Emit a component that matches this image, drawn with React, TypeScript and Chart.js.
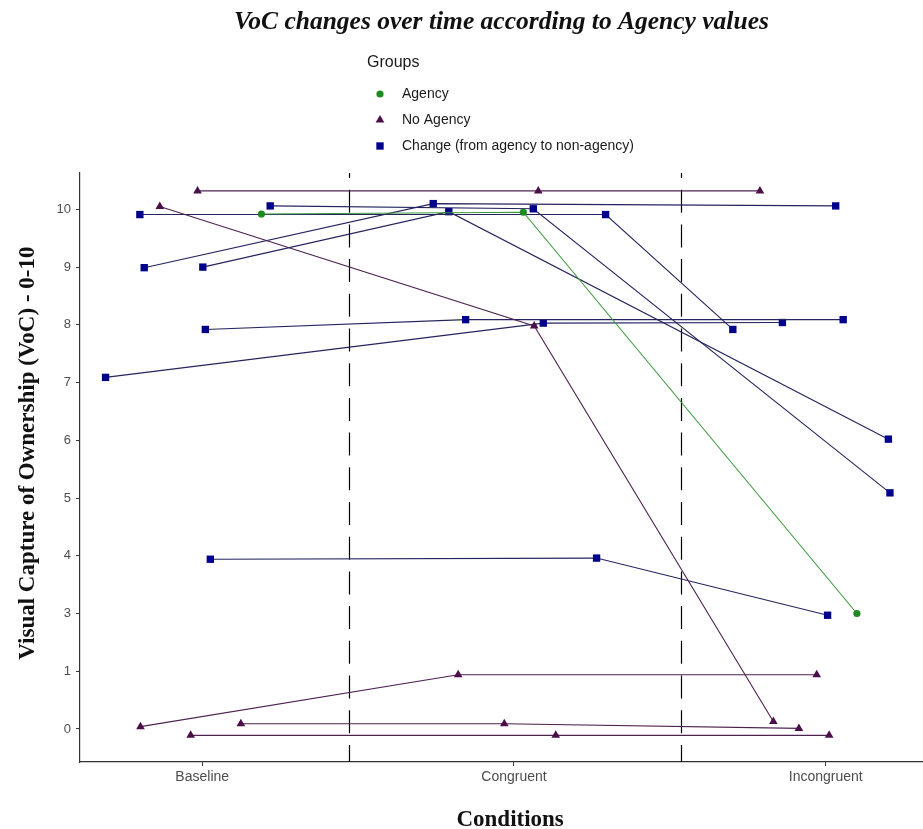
import React, { useEffect, useRef } from 'react';
import { Chart, registerables } from 'chart.js';

Chart.register(...registerables);

// ---- data ----
const conditions = ['Baseline', 'Congruent', 'Incongruent'];
const yTickLabels = [0, 1, 3, 4, 5, 6, 7, 8, 9, 10];
const dividers = [1.472, 2.535];
const groupNames = ['Agency', 'No Agency', 'Change (from agency to non-agency)'];

// jittered condition positions (1 = Baseline, 2 = Congruent, 3 = Incongruent)
const agencyX = [[1.19, 2.03, 3.1]];
const agencyY = [[9.92, 9.95, 3.0]];

const noAgencyX = [
  [0.985, 2.078, 2.789],
  [0.864, 2.065, 2.832],
  [0.802, 1.821, 2.971],
  [1.124, 1.969, 2.914],
  [0.963, 2.134, 3.011],
];
const noAgencyY = [
  [10.32, 10.32, 10.32],
  [10.05, 7.98, 0.13],
  [0.04, 0.94, 0.94],
  [0.09, 0.09, 0.01],
  [-0.11, -0.11, -0.11],
];

const changeX = [
  [0.8, 2.294, 2.702],
  [1.218, 2.062, 3.206],
  [1.002, 1.791, 3.201],
  [0.814, 1.741, 3.032],
  [1.01, 1.845, 3.056],
  [0.69, 2.094, 2.861],
  [1.026, 2.265, 3.006],
];
const changeY = [
  [9.91, 9.91, 7.92],
  [10.06, 10.01, 5.09],
  [9.0, 9.96, 6.02],
  [8.99, 10.1, 10.06],
  [7.92, 8.09, 8.09],
  [7.09, 8.03, 8.04],
  [3.94, 3.96, 2.94],
];

// ---- styles ----
const groupStyles = [
  { pointStyle: 'circle', radius: 3.6, point: '#1f8a1f', line: '#3f9a3f' },
  { pointStyle: 'triangle', radius: 5, point: '#4a0f48', line: '#4d2350' },
  { pointStyle: 'rect', radius: 5.2, point: '#00008b', line: '#24245e' },
];

// axis is drawn with equally spaced labels (0,1,3,4,...,10): map a value to its axis slot
function toAxis(v: number): number {
  const t = yTickLabels;
  if (v <= t[0]) return v - t[0];
  for (let i = 0; i < t.length - 1; i++) {
    if (v <= t[i + 1]) return i + (v - t[i]) / (t[i + 1] - t[i]);
  }
  return t.length - 1 + (v - t[t.length - 1]);
}

function buildDatasets() {
  const groups = [
    { xs: agencyX, ys: agencyY },
    { xs: noAgencyX, ys: noAgencyY },
    { xs: changeX, ys: changeY },
  ];
  const out: any[] = [];
  groups.forEach((g, gi) => {
    const st = groupStyles[gi];
    g.xs.forEach((row, ri) => {
      out.push({
        label: groupNames[gi] + ' ' + (ri + 1),
        data: row.map((x, i) => ({ x, y: toAxis(g.ys[ri][i]) })),
        borderColor: st.line,
        borderWidth: 1.1,
        pointStyle: st.pointStyle,
        pointRadius: st.radius,
        pointBackgroundColor: st.point,
        pointBorderColor: st.point,
        pointBorderWidth: 0,
        tension: 0,
        fill: false,
      });
    });
  });
  return out;
}

function drawMarker(ctx: CanvasRenderingContext2D, style: string, x: number, y: number, r: number, color: string) {
  ctx.fillStyle = color;
  ctx.beginPath();
  if (style === 'circle') {
    ctx.arc(x, y, r, 0, Math.PI * 2);
  } else if (style === 'triangle') {
    let rad = 0;
    ctx.moveTo(x + Math.sin(rad) * r, y - Math.cos(rad) * r);
    rad += (2 * Math.PI) / 3;
    ctx.lineTo(x + Math.sin(rad) * r, y - Math.cos(rad) * r);
    rad += (2 * Math.PI) / 3;
    ctx.lineTo(x + Math.sin(rad) * r, y - Math.cos(rad) * r);
    ctx.closePath();
  } else {
    const s = Math.SQRT1_2 * r;
    ctx.rect(x - s, y - s, 2 * s, 2 * s);
  }
  ctx.fill();
}

const dividerPlugin = {
  id: 'dividers',
  beforeDatasetsDraw(chart: any) {
    const { ctx, chartArea, scales } = chart;
    ctx.save();
    ctx.strokeStyle = '#000';
    ctx.lineWidth = 1.2;
    ctx.setLineDash([23, 11.7]);
    ctx.lineDashOffset = 18;
    dividers.forEach((d) => {
      const x = Math.round(scales.x.getPixelForValue(d)) + 0.5;
      ctx.beginPath();
      ctx.moveTo(x, chartArea.top);
      ctx.lineTo(x, chartArea.bottom);
      ctx.stroke();
    });
    ctx.restore();
  },
};

const legendPlugin = {
  id: 'groupsLegend',
  afterDraw(chart: any) {
    const ctx: CanvasRenderingContext2D = chart.ctx;
    ctx.save();
    ctx.textBaseline = 'middle';
    ctx.textAlign = 'left';
    ctx.fillStyle = '#1a1a1a';
    ctx.font = '16px "Liberation Sans", Arial, sans-serif';
    ctx.fillText('Groups', 367, 63);
    groupStyles.forEach((g, i) => {
      const y = 94 + i * 26;
      drawMarker(ctx, g.pointStyle, 380, y, g.radius, g.point);
      ctx.fillStyle = '#1a1a1a';
      ctx.font = '14px "Liberation Sans", Arial, sans-serif';
      ctx.fillText(groupNames[i], 402, y);
    });
    ctx.restore();
  },
};

export default function App() {
  const ref = useRef<HTMLCanvasElement | null>(null);

  useEffect(() => {
    if (!ref.current) return;
    const chart = new Chart(ref.current, {
      type: 'line',
      data: { datasets: buildDatasets() },
      plugins: [dividerPlugin, legendPlugin],
      options: {
        responsive: false,
        animation: false,
        events: [],
        layout: { padding: 0, autoPadding: false },
        plugins: {
          legend: { display: false },
          tooltip: { enabled: false },
          title: {
            display: true,
            fullSize: false,
            text: 'VoC changes over time according to Agency values',
            color: '#111',
            font: { family: '"Liberation Serif", serif', size: 25.5, style: 'italic', weight: 'bold', lineHeight: 1.2 },
            padding: { top: 6.7, bottom: 135.7 },
          },
        },
        scales: {
          x: {
            type: 'linear',
            min: 0.608,
            max: 3.312,
            afterBuildTicks: (scale: any) => {
              scale.ticks = conditions.map((_, i) => ({ value: i + 1 }));
            },
            afterFit: (scale: any) => {
              scale.height = 67;
              scale.paddingLeft = 0;
              scale.paddingRight = 0;
            },
            ticks: {
              autoSkip: false,
              maxRotation: 0,
              padding: 3,
              color: '#4d4d4d',
              font: { family: '"Liberation Sans", Arial, sans-serif', size: 14 },
              callback: (v: any) => conditions[Math.round(v) - 1],
            },
            grid: { drawOnChartArea: false, drawTicks: true, tickLength: 4, color: '#333' },
            border: { display: true, color: '#333', width: 1.2 },
            title: {
              display: true,
              text: '   Conditions',
              color: '#111',
              font: { family: '"Liberation Serif", serif', size: 23, weight: 'bold', lineHeight: 0.8 },
              padding: { top: 0, bottom: 0 },
            },
          },
          y: {
            type: 'linear',
            min: -0.572,
            max: 9.63,
            afterBuildTicks: (scale: any) => {
              scale.ticks = yTickLabels.map((_, i) => ({ value: i }));
            },
            afterFit: (scale: any) => {
              scale.width = 80;
              scale.paddingTop = 0;
              scale.paddingBottom = 0;
            },
            ticks: {
              autoSkip: false,
              padding: 5,
              color: '#4d4d4d',
              font: { family: '"Liberation Sans", Arial, sans-serif', size: 13 },
              callback: (v: any) => String(yTickLabels[Math.round(v)]),
            },
            grid: { drawOnChartArea: false, drawTicks: true, tickLength: 4, color: '#333' },
            border: { display: true, color: '#333', width: 1.2 },
            title: {
              display: true,
              text: '     Visual Capture of Ownership (VoC) - 0-10',
              color: '#111',
              font: { family: '"Liberation Serif", serif', size: 23, weight: 'bold', lineHeight: 1 },
              padding: { top: 17, bottom: 0 },
            },
          },
        },
      } as any,
    });
    return () => chart.destroy();
  }, []);

  return (
    <div style={{ position: 'fixed', left: 0, top: 0, width: 923, height: 829, background: '#fff' }}>
      <canvas ref={ref} width={923} height={829} style={{ display: 'block' }} />
    </div>
  );
}
